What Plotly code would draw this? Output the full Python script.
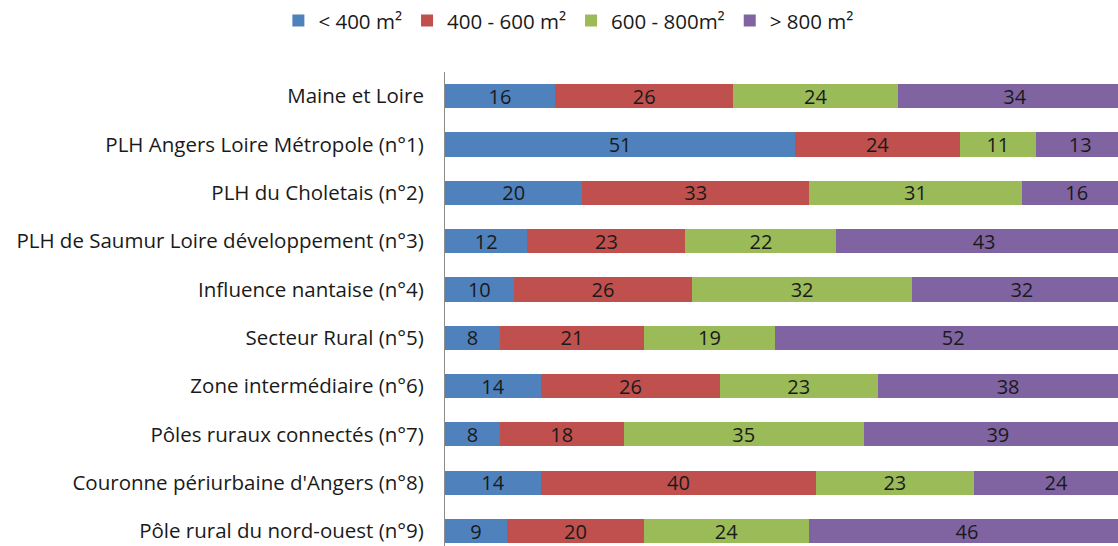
import plotly.graph_objects as go

# Territoires (de haut en bas)
territoires = [
    "Maine et Loire",
    "PLH Angers Loire Métropole (n°1)",
    "PLH du Choletais (n°2)",
    "PLH de Saumur Loire développement (n°3)",
    "Influence nantaise (n°4)",
    "Secteur Rural (n°5)",
    "Zone intermédiaire (n°6)",
    "Pôles ruraux connectés (n°7)",
    "Couronne périurbaine d'Angers (n°8)",
    "Pôle rural du nord-ouest (n°9)",
]

# Répartition des terrains par surface (%)
moins_400 = [16, 51, 20, 12, 10, 8, 14, 8, 14, 9]
de_400_600 = [26, 24, 33, 23, 26, 21, 26, 18, 40, 20]
de_600_800 = [24, 11, 31, 22, 32, 19, 23, 35, 23, 24]
plus_800 = [34, 13, 16, 43, 32, 52, 38, 39, 24, 46]

series = [
    ("< 400 m²", moins_400, "#4F81BD"),
    ("400 - 600 m²", de_400_600, "#C0504D"),
    ("600 - 800m²", de_600_800, "#9BBB59"),
    ("> 800 m²", plus_800, "#8064A2"),
]

FONT = "Open Sans"
TXT = "#1a1a1a"

fig = go.Figure()
for nom, valeurs, couleur in series:
    fig.add_trace(go.Bar(
        name=nom,
        y=territoires,
        x=valeurs,
        orientation="h",
        marker=dict(color=couleur, line=dict(width=0)),
        text=[str(v) for v in valeurs],
        textposition="inside",
        insidetextanchor="middle",
        textangle=0,
        constraintext="none",
        textfont=dict(color=TXT, size=20, family=FONT),
        width=0.5,
    ))

fig.update_layout(
    barmode="stack",
    width=1118,
    height=546,
    margin=dict(l=445, r=0, t=72, b=0),
    paper_bgcolor="white",
    plot_bgcolor="white",
    font=dict(family=FONT, size=20.5, color=TXT),
    showlegend=True,
    legend=dict(
        orientation="h",
        xref="container",
        yref="container",
        x=0.249,
        xanchor="left",
        y=0.962,
        yanchor="middle",
        font=dict(size=20.5, family=FONT),
        traceorder="normal",
    ),
    xaxis=dict(
        range=[0, 98],
        showgrid=False,
        zeroline=False,
        showticklabels=False,
        showline=False,
        fixedrange=True,
    ),
    yaxis=dict(
        categoryorder="array",
        categoryarray=territoires,
        range=[9.31, -0.5],
        showgrid=False,
        zeroline=False,
        showline=True,
        linecolor="#8c8c8c",
        linewidth=1,
        ticks="",
        ticklabelstandoff=16,
        automargin=False,
        tickfont=dict(size=20.5, family=FONT),
    ),
)

fig.write_html("out.html")
